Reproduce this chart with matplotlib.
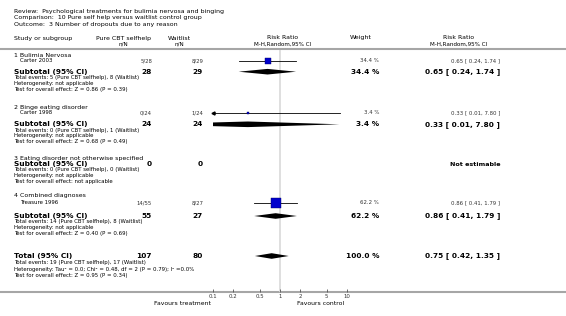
import matplotlib
matplotlib.use('Agg')
import matplotlib.pyplot as plt

# data
group_names = ['1 Bulimia Nervosa', '2 Binge eating disorder',
               '3 Eating disorder not otherwise specified', '4 Combined diagnoses']

study_names = ['Carter 2003', 'Carter 1998', 'Treasure 1996']
cbt_events = [5, 0, 14]
cbt_total = [28, 24, 55]
wait_events = [8, 1, 8]
wait_total = [29, 24, 27]
study_rr = [0.65, 0.33, 0.86]
study_lo = [0.24, 0.01, 0.41]
study_hi = [1.74, 7.80, 1.79]
study_weight = [34.4, 3.4, 62.2]

sub_cbt_n = [28, 24, 0, 55]
sub_wait_n = [29, 24, 0, 27]
sub_cbt_ev = [5, 0, 0, 14]
sub_wait_ev = [8, 1, 0, 8]
sub_rr = [0.65, 0.33, None, 0.86]
sub_lo = [0.24, 0.01, None, 0.41]
sub_hi = [1.74, 7.80, None, 1.79]
sub_weight = [34.4, 3.4, None, 62.2]
sub_z = ['Z = 0.86 (P = 0.39)', 'Z = 0.68 (P = 0.49)', 'not applicable', 'Z = 0.40 (P = 0.69)']

total_n = [107, 80]
total_ev = [19, 17]
total_rr = [0.75, 0.42, 1.35]
total_het = 'Tau\u00b2 = 0.0; Chi\u00b2 = 0.48, df = 2 (P = 0.79); I\u00b2 =0.0%'
total_z = 'Z = 0.95 (P = 0.34)'

tick_vals = [0.1, 0.2, 0.5, 1, 2, 5, 10]
tick_labels = ['0.1', '0.2', '0.5', '1', '2', '5', '10']

# layout (pixels)
W, H = 566, 316
group_y = [55.3, 107, 158.3, 196]
study_y = [61, 112.8, 202.8]
sub_y = [71.7, 124.3, 164, 216]
total_y = 256
axis_y = 292.3
top_y = 49.3

X_NAME, X_STUDY = 14, 20
X_CBT, X_WAIT = 152, 203
X_CBT_HEAD, X_WAIT_HEAD = 123, 179
X_PLOT_HEAD = 283
X_WEIGHT, X_WEIGHT_HEAD = 379, 361
X_RR, X_RR_HEAD = 500, 459

SMALL, SUBHEAD, HEAD, BOLD = 3.9, 4.1, 4.5, 5.3

fig = plt.figure(figsize=(W / 100, H / 100), dpi=100)
ax = fig.add_axes([0, 0, 1, 1])
ax.set_xlim(0, W)
ax.set_ylim(H, 0)
ax.axis('off')


def txt(x, y, s, size=SMALL, ha='left', bold=False, color='black'):
    ax.text(x, y, s, fontsize=size, ha=ha, va='center', color=color,
            fontweight='bold' if bold else 'normal')


def rr_text(rr, lo, hi):
    return f'{rr:.2f} [ {lo:.2f}, {hi:.2f} ]'


# title block
txt(X_NAME, 11, 'Review:  Psychological treatments for bulimia nervosa and binging', HEAD)
txt(X_NAME, 17.8, 'Comparison:  10 Pure self help versus waitlist control group', HEAD)
txt(X_NAME, 24.5, 'Outcome:  3 Number of dropouts due to any reason', HEAD)

# column headers
txt(X_NAME, 38.3, 'Study or subgroup', HEAD)
txt(X_CBT_HEAD, 38.3, 'Pure CBT selfhelp', HEAD, 'center')
txt(X_CBT_HEAD, 44, 'n/N', SUBHEAD, 'center')
txt(X_WAIT_HEAD, 38.3, 'Waitlist', HEAD, 'center')
txt(X_WAIT_HEAD, 44, 'n/N', SUBHEAD, 'center')
txt(X_PLOT_HEAD, 37.5, 'Risk Ratio', HEAD, 'center')
txt(X_PLOT_HEAD, 44, 'M-H,Random,95% CI', SUBHEAD, 'center')
txt(X_WEIGHT_HEAD, 37.5, 'Weight', HEAD, 'center')
txt(X_RR_HEAD, 37.5, 'Risk Ratio', HEAD, 'center')
txt(X_RR_HEAD, 44, 'M-H,Random,95% CI', SUBHEAD, 'center')

ax.plot([0, W], [top_y, top_y], color='#a6a6a6', lw=1.5)
ax.plot([0, W], [axis_y, axis_y], color='#a6a6a6', lw=1.5)

# forest panel on a log scale
axf = fig.add_axes([213.3 / W, (H - axis_y) / H, 133.4 / W, (axis_y - top_y - 1) / H])
axf.set_facecolor('none')
axf.set_xscale('log')
axf.set_xlim(0.1, 10)
axf.set_ylim(axis_y, top_y + 1)
for sp in axf.spines.values():
    sp.set_visible(False)
axf.set_yticks([])
axf.set_xticks(tick_vals)
axf.set_xticklabels(tick_labels)
axf.minorticks_off()
axf.tick_params(axis='x', direction='in', length=2.5, width=0.6, color='#555555',
                labelsize=SMALL, pad=1.5, labelcolor='#333333')
axf.axvline(1, color='#d9d9d9', lw=1.2, zorder=0)


def diamond(rr, lo, hi, y, h=2.8):
    axf.fill([lo, rr, hi, rr], [y, y - h, y, y + h], color='black', lw=0)


for i, name in enumerate(study_names):
    y = study_y[i]
    txt(X_STUDY, y, name)
    txt(X_CBT, y, f'{cbt_events[i]}/{cbt_total[i]}', ha='right', color='#333333')
    txt(X_WAIT, y, f'{wait_events[i]}/{wait_total[i]}', ha='right', color='#333333')
    txt(X_WEIGHT, y, f'{study_weight[i]:.1f} %', ha='right', color='#333333')
    txt(X_RR, y, rr_text(study_rr[i], study_lo[i], study_hi[i]), ha='right', color='#333333')
    axf.plot([study_lo[i], study_hi[i]], [y, y], color='black', lw=0.6)
    if study_lo[i] < 0.1:
        axf.plot(0.1, y, marker='<', ms=2.2, color='black', clip_on=False)
    side = 1.18 * study_weight[i] ** 0.5 * 0.72
    axf.plot(study_rr[i], y, marker='s', ms=side, mfc='#0000cc', mec='#000066', mew=0.3)

for g, name in enumerate(group_names):
    txt(X_NAME, group_y[g], name, HEAD)
    y = sub_y[g]
    txt(X_NAME, y, 'Subtotal (95% CI)', BOLD, bold=True)
    txt(X_CBT, y, str(sub_cbt_n[g]), BOLD, 'right', True)
    txt(X_WAIT, y, str(sub_wait_n[g]), BOLD, 'right', True)
    if sub_rr[g] is None:
        txt(X_RR, y, 'Not estimable', 4.6, 'right', True)
    else:
        txt(X_WEIGHT, y, f'{sub_weight[g]:.1f} %', BOLD, 'right', True)
        txt(X_RR, y, rr_text(sub_rr[g], sub_lo[g], sub_hi[g]), BOLD, 'right', True)
        diamond(sub_rr[g], sub_lo[g], sub_hi[g], y)
    txt(X_NAME, y + 5.9, f'Total events: {sub_cbt_ev[g]} (Pure CBT selfhelp), {sub_wait_ev[g]} (Waitlist)')
    txt(X_NAME, y + 11.7, 'Heterogeneity: not applicable')
    txt(X_NAME, y + 17.5, f'Test for overall effect: {sub_z[g]}')

# overall
txt(X_NAME, total_y, 'Total (95% CI)', BOLD, bold=True)
txt(X_CBT, total_y, str(total_n[0]), BOLD, 'right', True)
txt(X_WAIT, total_y, str(total_n[1]), BOLD, 'right', True)
txt(X_WEIGHT, total_y, '100.0 %', BOLD, 'right', True)
txt(X_RR, total_y, rr_text(*total_rr), BOLD, 'right', True)
diamond(total_rr[0], total_rr[1], total_rr[2], total_y)
txt(X_NAME, total_y + 6.5, f'Total events: {total_ev[0]} (Pure CBT selfhelp), {total_ev[1]} (Waitlist)')
txt(X_NAME, total_y + 13, f'Heterogeneity: {total_het}')
txt(X_NAME, total_y + 19.5, f'Test for overall effect: {total_z}')

txt(183, 303.5, 'Favours treatment', 4.4, 'center')
txt(321, 303.5, 'Favours control', 4.4, 'center')

fig.savefig('out.png', dpi=100)
